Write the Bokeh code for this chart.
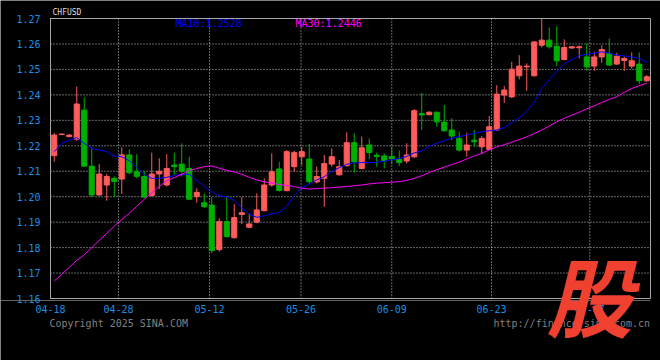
from bokeh.plotting import figure
from bokeh.models import Range1d, FixedTicker, Label, ColumnDataSource, PrintfTickFormatter
from bokeh.embed import file_html
from bokeh.resources import INLINE

# ---------------- data ----------------
symbol = "CHFUSD"
opens = [1.2161, 1.2244, 1.2236, 1.2226, 1.2340, 1.2120, 1.2007, 1.2046, 1.2072, 1.2069,
         1.2164, 1.2098, 1.2079, 1.2005, 1.2089, 1.2046, 1.2124, 1.2128, 1.2111, 1.2000,
         1.1976, 1.1967, 1.1792, 1.1902, 1.1839, 1.1930, 1.1880, 1.1900, 1.1945, 1.2046,
         1.2109, 1.2024, 1.2118, 1.2157, 1.2148, 1.2058, 1.2072, 1.2128, 1.2086, 1.2122,
         1.2212, 1.2111, 1.2203, 1.2163, 1.2160, 1.2158, 1.2147, 1.2140, 1.2157, 1.2327,
         1.2322, 1.2332, 1.2293, 1.2262, 1.2229, 1.2183, 1.2222, 1.2196, 1.2186, 1.2262,
         1.2399, 1.2392, 1.2475, 1.2510, 1.2475, 1.2595, 1.2615, 1.2591, 1.2539, 1.2584,
         1.2585, 1.2549, 1.2513, 1.2549, 1.2563, 1.2521, 1.2535, 1.2513, 1.2521, 1.2455]
highs = [1.2251, 1.2248, 1.2245, 1.2432, 1.2390, 1.2194, 1.2128, 1.2090, 1.2080, 1.2194,
         1.2186, 1.2167, 1.2101, 1.2173, 1.2151, 1.2167, 1.2173, 1.2209, 1.2157, 1.2033,
         1.2013, 1.1998, 1.1915, 1.2000, 1.1971, 1.1998, 1.1931, 1.2013, 1.2072, 1.2170,
         1.2137, 1.2183, 1.2181, 1.2196, 1.2207, 1.2118, 1.2164, 1.2190, 1.2144, 1.2253,
         1.2249, 1.2236, 1.2229, 1.2173, 1.2170, 1.2196, 1.2181, 1.2210, 1.2344, 1.2408,
         1.2335, 1.2334, 1.2360, 1.2308, 1.2255, 1.2251, 1.2262, 1.2238, 1.2317, 1.2438,
         1.2434, 1.2530, 1.2556, 1.2524, 1.2610, 1.2700, 1.2665, 1.2669, 1.2618, 1.2591,
         1.2593, 1.2602, 1.2569, 1.2595, 1.2621, 1.2565, 1.2550, 1.2567, 1.2567, 1.2478]
lows = [1.2137, 1.2242, 1.2234, 1.2220, 1.2118, 1.1998, 1.2003, 1.1984, 1.1998, 1.2011,
        1.2088, 1.2072, 1.1995, 1.2000, 1.2030, 1.2040, 1.2085, 1.2079, 1.1986, 1.1976,
        1.1955, 1.1778, 1.1785, 1.1840, 1.1835, 1.1893, 1.1878, 1.1896, 1.1943, 1.2039,
        1.2020, 1.2020, 1.2098, 1.2124, 1.2050, 1.2052, 1.1961, 1.2118, 1.2083, 1.2118,
        1.2094, 1.2108, 1.2147, 1.2118, 1.2111, 1.2128, 1.2120, 1.2130, 1.2152, 1.2262,
        1.2320, 1.2275, 1.2256, 1.2222, 1.2177, 1.2157, 1.2196, 1.2168, 1.2183, 1.2258,
        1.2369, 1.2388, 1.2461, 1.2416, 1.2472, 1.2586, 1.2582, 1.2513, 1.2536, 1.2582,
        1.2543, 1.2494, 1.2494, 1.2526, 1.2515, 1.2518, 1.2494, 1.2504, 1.2442, 1.2452]
closes = [1.2242, 1.2246, 1.2242, 1.2364, 1.2120, 1.2007, 1.2089, 1.2079, 1.2060, 1.2164,
          1.2094, 1.2080, 1.1998, 1.2089, 1.2100, 1.2111, 1.2118, 1.2100, 1.1990, 1.2017,
          1.1961, 1.1788, 1.1902, 1.1843, 1.1918, 1.1937, 1.1893, 1.1948, 1.2046, 1.2098,
          1.2024, 1.2177, 1.2173, 1.2177, 1.2059, 1.2079, 1.2130, 1.2157, 1.2118, 1.2212,
          1.2137, 1.2192, 1.2173, 1.2158, 1.2142, 1.2148, 1.2134, 1.2164, 1.2338, 1.2321,
          1.2332, 1.2294, 1.2259, 1.2238, 1.2183, 1.2203, 1.2216, 1.2229, 1.2275, 1.2403,
          1.2419, 1.2501, 1.2513, 1.2513, 1.2608, 1.2615, 1.2589, 1.2534, 1.2586, 1.2589,
          1.2589, 1.2510, 1.2549, 1.2578, 1.2517, 1.2552, 1.2543, 1.2534, 1.2455, 1.2471]

ma10 = [1.2177, 1.2209, 1.2222, 1.2232, 1.2209, 1.2190, 1.2183, 1.2177, 1.2160,
        1.2157, 1.2141, 1.2115, 1.2089, 1.2072, 1.2072, 1.2076, 1.2083, 1.2088, 1.2088,
        1.2063, 1.2040, 1.2020, 1.2003, 1.2000, 1.1985, 1.1955, 1.1932, 1.1919, 1.1925,
        1.1932, 1.1938, 1.1962, 1.2005, 1.2035, 1.2050, 1.2066, 1.2078, 1.2100, 1.2114,
        1.2127, 1.2133, 1.2134, 1.2134, 1.2135, 1.2139, 1.2145, 1.2150, 1.2158, 1.2172,
        1.2180, 1.2198, 1.2210, 1.2220, 1.2230, 1.2236, 1.2243, 1.2249, 1.2255, 1.2259,
        1.2262, 1.2272, 1.2290, 1.2310, 1.2335, 1.2372, 1.2424, 1.2460, 1.2492, 1.2522,
        1.2539, 1.2554, 1.2560, 1.2563, 1.2569, 1.2564, 1.2556, 1.2553, 1.2549, 1.2543,
        1.2528]
ma30 = [1.1669, 1.1695, 1.1722, 1.1750, 1.1772, 1.1800, 1.1828, 1.1856, 1.1884,
        1.1910, 1.1935, 1.1962, 1.1990, 1.2015, 1.2040, 1.2062, 1.2075, 1.2088, 1.2103,
        1.2110, 1.2118, 1.2121, 1.2112, 1.2103, 1.2097, 1.2088, 1.2076, 1.2066, 1.2058,
        1.2054, 1.2047, 1.2044, 1.2040, 1.2033, 1.2030, 1.2032, 1.2034, 1.2035, 1.2038,
        1.2040, 1.2043, 1.2046, 1.2050, 1.2053, 1.2055, 1.2057, 1.2059, 1.2064, 1.2072,
        1.2082, 1.2095, 1.2106, 1.2116, 1.2126, 1.2136, 1.2148, 1.2160, 1.2170, 1.2184,
        1.2196, 1.2204, 1.2214, 1.2225, 1.2235, 1.2248, 1.2262, 1.2278, 1.2294, 1.2308,
        1.2320, 1.2332, 1.2345, 1.2357, 1.2370, 1.2382, 1.2393, 1.2410, 1.2425, 1.2436,
        1.2446]

y_ticks = [1.16, 1.17, 1.18, 1.19, 1.20, 1.21, 1.22, 1.23, 1.24, 1.25, 1.26, 1.27]
date_labels = ["04-18", "04-28", "05-12", "05-26", "06-09", "06-23", "07-07"]
date_pos = [-0.5, 8.57, 20.7, 32.9, 45.0, 58.3, 71.4]

# ---------------- layout / style ----------------
W, H = 660, 360
CH_L, CH_R, CH_T, CH_B = 50, 650, 18, 298     # chart box in pixels
RED = "#ff5c5c"
GREEN = "#00b000"
BLUE_TXT = "#1a8fe3"
GRID = "#c8c8c8"
MONO = "DejaVu Sans Mono"

n = len(opens)
x_lo, x_hi = -0.5, n - 0.5
y_lo, y_hi = y_ticks[0], y_ticks[-1]
ux = (x_hi - x_lo) / (CH_R - CH_L)          # data per pixel
uy = (y_hi - y_lo) / (CH_B - CH_T)
x_range = Range1d(x_lo - CH_L * ux, x_hi + (W - CH_R) * ux)
y_range = Range1d(y_lo - (H - CH_B) * uy, y_hi + CH_T * uy)

xs = list(range(n))
colors = [RED if c >= o else GREEN for o, c in zip(opens, closes)]
src = ColumnDataSource(dict(
    x=xs,
    top=[max(o, c) for o, c in zip(opens, closes)],
    bottom=[min(o, c) for o, c in zip(opens, closes)],
    high=highs, low=lows, color=colors,
))

p = figure(width=W, height=H, output_backend="svg", toolbar_location=None,
           x_range=x_range, y_range=y_range,
           min_border_left=0, min_border_right=0, min_border_top=0, min_border_bottom=0)
p.background_fill_color = "black"
p.border_fill_color = "black"
p.outline_line_color = None
p.grid.visible = False

for ax in (p.xaxis, p.yaxis):
    ax.axis_line_color = None
    ax.major_tick_line_color = None
    ax.minor_tick_line_color = None
    ax.major_label_text_color = BLUE_TXT
    ax.major_label_text_font = MONO
    ax.major_label_text_font_size = "10px"

p.yaxis.fixed_location = x_lo
p.yaxis.major_label_standoff = 4
p.yaxis.ticker = FixedTicker(ticks=y_ticks)
p.yaxis.formatter = PrintfTickFormatter(format="%.2f")
p.xaxis.fixed_location = y_lo
p.xaxis.major_label_standoff = 0
p.xaxis.ticker = FixedTicker(ticks=date_pos)
p.xaxis.major_label_overrides = {pos: lab for pos, lab in zip(date_pos, date_labels)}

# dotted grid inside the chart box
p.segment(x0=[x_lo] * len(y_ticks), x1=[x_hi] * len(y_ticks), y0=y_ticks, y1=y_ticks,
          line_color=GRID, line_dash="1 2", line_width=1)
p.segment(x0=date_pos, x1=date_pos, y0=[y_lo] * len(date_pos), y1=[y_hi] * len(date_pos),
          line_color=GRID, line_dash="1 2", line_width=1)
# dotted baseline under the chart, across the page
p.segment(x0=[x_range.start], x1=[x_hi], y0=[y_lo - 2 * uy], y1=[y_lo - 2 * uy],
          line_color=GRID, line_dash="1 1", line_width=1)

# candles
p.segment(x0="x", y0="low", x1="x", y1="high", line_color="color", line_width=1, source=src)
p.vbar(x="x", width=0.68, top="top", bottom="bottom", fill_color="color",
       line_color="color", line_width=1, source=src)

# moving averages
p.line(xs, ma10, line_color="#0000ff", line_width=1)
p.line(xs, ma30, line_color="#ff00ff", line_width=1)

# chart border
p.quad(left=[x_lo], right=[x_hi], bottom=[y_lo], top=[y_hi], fill_color=None,
       line_color="#a8a8a8", line_width=1)

def lab(text, px, py, color, size="10px", font=MONO, align="left", style="normal"):
    p.add_layout(Label(x=px, y=H - py, x_units="screen", y_units="screen", text=text,
                       text_color=color, text_font=font, text_font_size=size,
                       text_align=align, text_baseline="middle", text_font_style=style))

lab(symbol, 52, 12, "#dcdcdc", size="8px")
lab("MA10:%.4f" % ma10[-1], 175, 23, "#0000ff")
lab("MA30:%.4f" % ma30[-1], 295, 23, "#ff00ff")
lab("Copyright 2025 SINA.COM", 49, 323, "#808080")
lab("http://finance.sina.com.cn", 493, 323, "#808080")
lab("股", 589, 293, "#f04030", size="86px", font="Noto Sans CJK SC", align="center",
    style="bold italic")

open("out.html", "w").write(file_html(p, INLINE))
